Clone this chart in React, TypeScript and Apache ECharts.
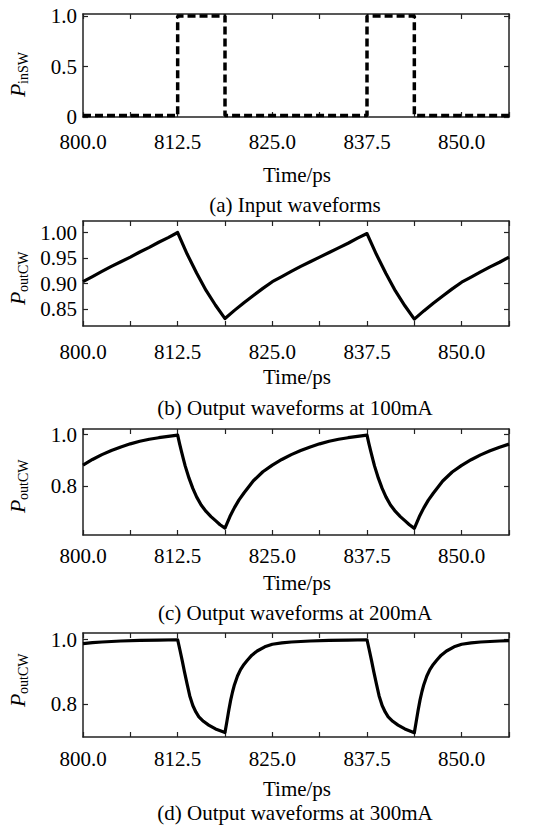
import { useEffect, useRef } from "react";
import * as echarts from "echarts";

// ---------- data ----------
const timeMin = 800;
const timeMax = 856.25;
const timeStep = 6.25;
const timeTickLabels = [800, 812.5, 825, 837.5, 850];

// (a) input switching pulses
const inputTime = [800, 812.5, 812.5, 818.75, 818.75, 837.5, 837.5, 843.75, 843.75, 856.25];
const inputPower = [0.015, 0.015, 1.0, 1.0, 0.015, 0.015, 1.0, 1.0, 0.015, 0.015];

// (b) 100 mA
const time100 = [
  800, 801.25, 802.5, 803.75, 805, 806.25, 807.5, 808.75, 810, 811.25, 812.5,
  813.75, 815, 816.25, 817.5, 818.75,
  820, 821.25, 822.5, 823.75, 825, 826.25, 827.5, 828.75, 830, 831.25, 832.5, 833.75, 835, 836.25, 837.5,
  838.75, 840, 841.25, 842.5, 843.75,
  845, 846.25, 847.5, 848.75, 850, 851.25, 852.5, 853.75, 855, 856.25,
];
const power100 = [
  0.904, 0.914, 0.924, 0.934, 0.943, 0.952, 0.962, 0.971, 0.981, 0.99, 1.0,
  0.958, 0.921, 0.887, 0.858, 0.832,
  0.848, 0.863, 0.877, 0.891, 0.904, 0.914, 0.924, 0.934, 0.943, 0.952, 0.961, 0.97, 0.979, 0.989, 0.998,
  0.957, 0.92, 0.886, 0.857, 0.831,
  0.847, 0.862, 0.876, 0.89, 0.903, 0.913, 0.923, 0.933, 0.942, 0.952,
];

// (c) 200 mA
const time200 = [
  800, 801.25, 802.5, 803.75, 805, 806.25, 807.5, 808.75, 810, 811.25, 812.5,
  812.75, 813, 813.25, 813.5, 814, 814.5, 815, 815.6, 816.25, 816.9, 817.5, 818.1, 818.75,
  819.4, 820, 820.6, 821.25, 822.5, 823.75, 825, 826.25, 827.5, 828.75, 830, 831.25, 832.5, 833.75, 835, 836.25, 837.5,
  837.75, 838, 838.25, 838.5, 839, 839.5, 840, 840.6, 841.25, 841.9, 842.5, 843.1, 843.75,
  844.4, 845, 845.6, 846.25, 847.5, 848.75, 850, 851.25, 852.5, 853.75, 855, 856.25,
];
const power200 = [
  0.881, 0.903, 0.922, 0.938, 0.952, 0.964, 0.974, 0.982, 0.988, 0.993, 0.998,
  0.965, 0.935, 0.905, 0.877, 0.83, 0.79, 0.757, 0.725, 0.7, 0.68, 0.664, 0.648, 0.635,
  0.68, 0.715, 0.745, 0.772, 0.82, 0.855, 0.881, 0.903, 0.922, 0.938, 0.952, 0.964, 0.974, 0.982, 0.988, 0.993, 0.998,
  0.965, 0.935, 0.905, 0.877, 0.83, 0.79, 0.757, 0.725, 0.7, 0.68, 0.664, 0.648, 0.634,
  0.679, 0.714, 0.744, 0.771, 0.819, 0.854, 0.88, 0.902, 0.921, 0.937, 0.951, 0.963,
];

// (d) 300 mA
const time300 = [
  800, 801.25, 802.5, 805, 807.5, 810, 812.5,
  812.8, 813.1, 813.4, 813.75, 814.1, 814.5, 814.9, 815.3, 815.9, 816.6, 817.5, 818.75,
  819, 819.25, 819.5, 819.75, 820, 820.4, 820.8, 821.25, 821.7, 822.3, 823, 824, 825, 826.25, 827.5, 830, 832.5, 835, 837.5,
  837.8, 838.1, 838.4, 838.75, 839.1, 839.5, 839.9, 840.3, 840.9, 841.6, 842.5, 843.75,
  844, 844.25, 844.5, 844.75, 845, 845.4, 845.8, 846.25, 846.7, 847.3, 848, 849, 850, 851.25, 852.5, 855, 856.25,
];
const power300 = [
  0.988, 0.991, 0.993, 0.996, 0.998, 0.999, 1.0,
  0.968, 0.935, 0.9, 0.862, 0.825, 0.795, 0.775, 0.76, 0.746, 0.734, 0.722, 0.711,
  0.745, 0.78, 0.812, 0.838, 0.86, 0.887, 0.907, 0.923, 0.936, 0.952, 0.965, 0.978, 0.986, 0.99, 0.993, 0.996, 0.998, 0.999, 1.0,
  0.968, 0.935, 0.9, 0.862, 0.825, 0.795, 0.775, 0.76, 0.746, 0.734, 0.722, 0.71,
  0.745, 0.78, 0.812, 0.838, 0.86, 0.887, 0.907, 0.923, 0.936, 0.952, 0.965, 0.978, 0.986, 0.99, 0.993, 0.996, 0.997,
];

const yTicksA = [0, 0.5, 1.0];
const yTicksB = [0.85, 0.9, 0.95, 1.0];
const yTicksC = [0.8, 1.0];
const yTicksD = [0.8, 1.0];

const captions = [
  "(a) Input waveforms",
  "(b) Output waveforms at 100mA",
  "(c) Output waveforms at 200mA",
  "(d) Output waveforms at 300mA",
];
const xTitle = "Time/ps";
const ySubscripts = ["inSW", "outCW", "outCW", "outCW"];

// ---------- layout ----------
const FONT = '"Liberation Serif", "Times New Roman", serif';
const panels = [
  { top: 14, height: 103, yMin: 0, yMax: 1.02, ticks: yTicksA, digits: 1, labelMargin: 14, titleY: 175, capY: 205, yTitleY: 97, dashed: true, t: inputTime, v: inputPower },
  { top: 221, height: 105, yMin: 0.8175, yMax: 1.0225, ticks: yTicksB, digits: 2, labelMargin: 15, titleY: 377, capY: 408, yTitleY: 305, dashed: false, t: time100, v: power100 },
  { top: 429, height: 106, yMin: 0.608, yMax: 1.022, ticks: yTicksC, digits: 1, labelMargin: 10, titleY: 583, capY: 613, yTitleY: 513, dashed: false, t: time200, v: power200 },
  { top: 633, height: 104, yMin: 0.697, yMax: 1.021, ticks: yTicksD, digits: 1, labelMargin: 11, titleY: 789, capY: 813, yTitleY: 707, dashed: false, t: time300, v: power300 },
];
const LEFT = 83;
const WIDTH = 426;
const AXIS_COLOR = "#222";

export default function App() {
  const ref = useRef<HTMLDivElement>(null);

  useEffect(() => {
    if (!ref.current) return;
    const chart = echarts.init(ref.current, null, { renderer: "svg" });

    const grid: any[] = [];
    const xAxis: any[] = [];
    const yAxis: any[] = [];
    const series: any[] = [];
    const graphic: any[] = [];

    const tickStyle = { inside: true, length: 5, lineStyle: { color: AXIS_COLOR, width: 1.2 } };
    const lineStyle = { lineStyle: { color: AXIS_COLOR, width: 1.5 } };

    panels.forEach((p, i) => {
      grid.push({ left: LEFT, width: WIDTH, top: p.top, height: p.height, containLabel: false });
      xAxis.push({
        type: "value", gridIndex: i, position: "bottom", min: timeMin, max: timeMax, interval: timeStep,
        axisLine: { show: true, onZero: false, ...lineStyle },
        axisTick: tickStyle,
        splitLine: { show: false },
        axisLabel: {
          show: true, margin: p.labelMargin, color: "#000", fontFamily: FONT, fontSize: 21,
          customValues: timeTickLabels,
          formatter: (v: number) => (timeTickLabels.indexOf(v) >= 0 ? v.toFixed(1) : ""),
        },
      });
      xAxis.push({
        type: "value", gridIndex: i, position: "top", min: timeMin, max: timeMax, interval: timeStep,
        axisLine: { show: true, onZero: false, ...lineStyle },
        axisTick: tickStyle,
        splitLine: { show: false },
        axisLabel: { show: false },
      });
      const fmt = (v: number) => (v === 0 ? "0" : v.toFixed(p.digits));
      yAxis.push({
        type: "value", gridIndex: i, position: "left", min: p.yMin, max: p.yMax,
        axisLine: { show: true, onZero: false, ...lineStyle },
        axisTick: { ...tickStyle, customValues: p.ticks },
        splitLine: { show: false },
        axisLabel: { show: true, margin: 6, color: "#000", fontFamily: FONT, fontSize: 21, customValues: p.ticks, formatter: fmt },
      });
      yAxis.push({
        type: "value", gridIndex: i, position: "right", min: p.yMin, max: p.yMax,
        axisLine: { show: true, onZero: false, ...lineStyle },
        axisTick: { ...tickStyle, customValues: p.ticks },
        splitLine: { show: false },
        axisLabel: { show: false },
      });
      series.push({
        type: "line",
        xAxisIndex: i * 2,
        yAxisIndex: i * 2,
        data: p.t.map((t, k) => [t, p.v[k]]),
        showSymbol: false,
        symbol: "none",
        lineStyle: p.dashed
          ? { color: "#000", width: 3.5, type: [8, 4] }
          : { color: "#000", width: 3.2, join: "round" },
        z: 5,
      });
      graphic.push({
        type: "text", x: LEFT + WIDTH / 2 + 1, y: p.titleY,
        style: { text: xTitle, font: `21px ${FONT}`, fill: "#000", align: "center", verticalAlign: "middle" },
      });
      graphic.push({
        type: "text", x: 295, y: p.capY,
        style: { text: captions[i], font: `21px ${FONT}`, fill: "#000", align: "center", verticalAlign: "middle" },
      });
      graphic.push({
        type: "group", x: 17, y: p.yTitleY, rotation: Math.PI / 2,
        children: [
          { type: "text", x: 0, y: 0, style: { text: "P", font: `italic 22px ${FONT}`, fill: "#000", align: "left", verticalAlign: "middle" } },
          { type: "text", x: 13, y: 6, style: { text: ySubscripts[i], font: `14px ${FONT}`, fill: "#000", align: "left", verticalAlign: "middle" } },
        ],
      });
    });

    chart.setOption({
      animation: false,
      backgroundColor: "#fff",
      grid,
      xAxis,
      yAxis,
      series,
      graphic,
    });

    return () => chart.dispose();
  }, []);

  return (
    <div
      ref={ref}
      style={{ position: "absolute", left: 0, top: 0, width: 556, height: 830, background: "#fff" }}
    />
  );
}
